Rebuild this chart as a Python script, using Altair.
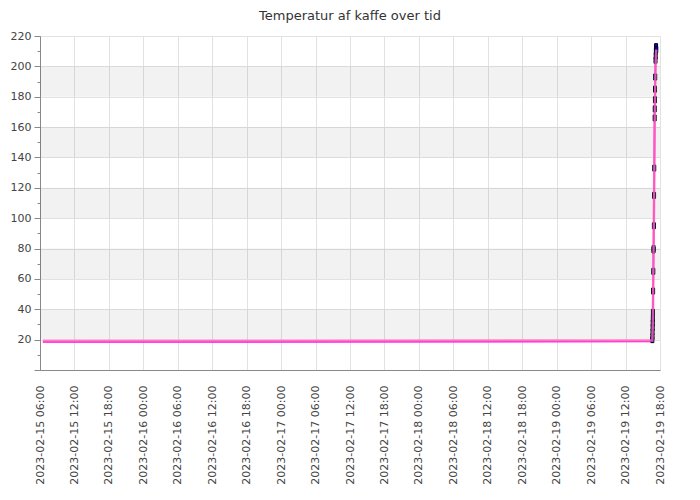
import altair as alt
import pandas as pd

title_text = "Temperatur af kaffe over tid"

# measured series (magenta line + markers at the end)
meas_times = ["2023-02-15 06:30", "2023-02-19 16:38", "2023-02-19 16:40", "2023-02-19 16:41",
              "2023-02-19 16:42", "2023-02-19 16:43", "2023-02-19 16:44", "2023-02-19 16:45",
              "2023-02-19 16:46", "2023-02-19 16:48", "2023-02-19 16:50", "2023-02-19 16:52",
              "2023-02-19 16:53", "2023-02-19 16:56", "2023-02-19 16:58", "2023-02-19 17:00",
              "2023-02-19 17:04", "2023-02-19 17:05", "2023-02-19 17:07", "2023-02-19 17:08",
              "2023-02-19 17:10", "2023-02-19 17:13", "2023-02-19 17:15", "2023-02-19 17:17",
              "2023-02-19 17:19", "2023-02-19 17:21"]
meas_temps = [18.5, 18.8, 20, 22, 25, 28, 31, 34, 38, 52, 65, 79, 80, 95, 115, 133,
              166, 172, 178, 185, 193, 204, 207, 210, 213, 211]

# smoothed series (pink line)
smooth_times = ["2023-02-15 06:30", "2023-02-19 16:40", "2023-02-19 16:46", "2023-02-19 16:52",
                "2023-02-19 16:58", "2023-02-19 17:04", "2023-02-19 17:10", "2023-02-19 17:16",
                "2023-02-19 17:21"]
smooth_temps = [19.2, 19.4, 34, 75, 112, 160, 188, 205, 211]

band_lo = [20, 60, 100, 140, 180]
band_hi = [40, 80, 120, 160, 200]

tick_labels = ["2023-02-15 06:00", "2023-02-15 12:00", "2023-02-15 18:00",
               "2023-02-16 00:00", "2023-02-16 06:00", "2023-02-16 12:00", "2023-02-16 18:00",
               "2023-02-17 00:00", "2023-02-17 06:00", "2023-02-17 12:00", "2023-02-17 18:00",
               "2023-02-18 00:00", "2023-02-18 06:00", "2023-02-18 12:00", "2023-02-18 18:00",
               "2023-02-19 00:00", "2023-02-19 06:00", "2023-02-19 12:00", "2023-02-19 18:00"]
y_ticks = list(range(0, 221, 10))


def dt(s):
    d, t = s.split(" ")
    yy, mm, dd = d.split("-")
    hh, mi = t.split(":")
    return alt.DateTime(year=int(yy), month=int(mm), date=int(dd), hours=int(hh), minutes=int(mi))


meas_df = pd.DataFrame({"t": [s.replace(" ", "T") for s in meas_times], "v": meas_temps})
smooth_df = pd.DataFrame({"t": [s.replace(" ", "T") for s in smooth_times], "v": smooth_temps})
band_df = pd.DataFrame({"lo": band_lo, "hi": band_hi})

W, H = 620, 334
FONT = "DejaVu Sans"
LABEL_COLOR = "#444444"
AXIS_COLOR = "#888888"
GRID_COLOR = "#e2e2e2"

x_enc = alt.X(
    "t:T",
    title=None,
    scale=alt.Scale(domain=[dt(tick_labels[0]), dt(tick_labels[-1])]),
    axis=alt.Axis(
        values=[dt(s) for s in tick_labels],
        format="%Y-%m-%d %H:%M",
        labelAngle=270,
        labelAlign="right",
        labelBaseline="middle",
        labelPadding=15,
        ticks=False,
        grid=True,
        gridColor=GRID_COLOR,
        domainColor=AXIS_COLOR,
        labelColor=LABEL_COLOR,
        labelFont=FONT,
        labelFontSize=11,
        labelOverlap=False,
        labelFlush=False,
    ),
)

y_axis = alt.Axis(
    values=y_ticks,
    labelExpr="datum.value % 20 === 0 && datum.value > 0 ? datum.label : ''",
    tickSize={"condition": {"test": "datum.value % 20 === 0", "value": 6}, "value": 3},
    gridOpacity={"condition": {"test": "datum.value % 20 === 0 && datum.value > 0", "value": 1}, "value": 0},
    grid=True,
    gridColor=GRID_COLOR,
    tickColor=AXIS_COLOR,
    domainColor=AXIS_COLOR,
    labelColor=LABEL_COLOR,
    labelFont=FONT,
    labelFontSize=11,
    labelPadding=3,
    labelOverlap=False,
)
y_scale = alt.Scale(domain=[0, 220], nice=False)

bands = alt.Chart(band_df).mark_rect(color="black", opacity=0.05).encode(
    y=alt.Y("lo:Q", scale=y_scale, axis=y_axis, title=None),
    y2="hi:Q",
    x=alt.value(0),
    x2=alt.value(W),
)

meas_line = alt.Chart(meas_df).mark_line(color="#ff00ff", strokeWidth=1.8).encode(
    x=x_enc, y=alt.Y("v:Q", scale=y_scale, axis=y_axis, title=None)
)

meas_pts = alt.Chart(meas_df.iloc[2:]).mark_point(
    shape="M-0.5,-1L0.5,-1L0.5,1L-0.5,1Z",
    filled=True, fill="#0000ff", stroke="black", strokeWidth=1, size=36, opacity=1
).encode(x=x_enc, y=alt.Y("v:Q", scale=y_scale, axis=y_axis, title=None))

smooth_line = alt.Chart(smooth_df).mark_line(color="#ff69b4", strokeWidth=2.5, opacity=0.8).encode(
    x=x_enc, y=alt.Y("v:Q", scale=y_scale, axis=y_axis, title=None)
)

chart = alt.layer(bands, meas_line, meas_pts, smooth_line).properties(
    width=W,
    height=H,
    title=alt.TitleParams(
        title_text, font=FONT, fontSize=13, fontWeight="normal", color="#333333",
        anchor="middle", offset=7,
    ),
    autosize="none",
    padding={"left": 32, "top": 28, "right": 20, "bottom": 120},
).configure_view(stroke=None)

chart.save("out.html", embed_options={"renderer": "svg", "actions": False})
